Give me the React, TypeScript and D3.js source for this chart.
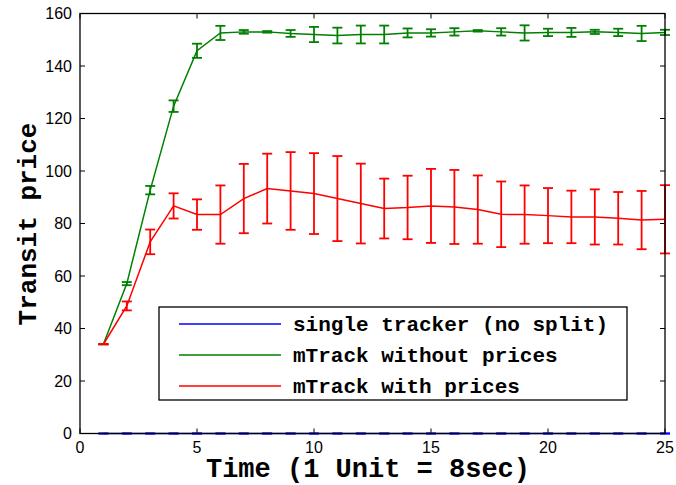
import React from "react";
import * as d3 from "d3";

const times = [1,2,3,4,5,6,7,8,9,10,11,12,13,14,15,16,17,18,19,20,21,22,23,24,25];
const singleMean = [0,0,0,0,0,0,0,0,0,0,0,0,0,0,0,0,0,0,0,0,0,0,0,0,0];
const singleErr = [0,0,0,0,0,0,0,0,0,0,0,0,0,0,0,0,0,0,0,0,0,0,0,0,0];
const noPriceMean = [34,57.1,92.7,124.7,145.8,152.6,153.0,153.0,152.4,152.0,151.6,152.0,152.0,152.6,152.6,153.0,153.4,153.0,152.6,152.8,152.8,153.0,152.8,152.4,152.8];
const noPriceErr = [0,0.6,1.6,2.2,2.7,2.7,0.7,0.3,1.3,2.9,3.0,3.4,3.4,1.7,1.4,1.4,0.3,1.4,2.9,1.4,1.7,0.8,1.4,2.9,1.0];
const priceMean = [34,48.6,73,86.7,83.4,83.4,89.5,93.3,92.4,91.4,89.5,87.6,85.7,86.1,86.7,86.3,85.3,83.5,83.4,83.0,82.5,82.5,82.0,81.3,81.6];
const priceErr = [0,1.7,4.7,4.8,5.8,11.1,13.2,13.3,14.8,15.4,16.2,15.2,11.4,12.1,14.1,14.1,13.0,12.5,11.1,10.5,10.0,10.5,10.0,11.1,13.0];
const seriesNames = ["single tracker (no split)", "mTrack without prices", "mTrack with prices"];
const seriesColors = ["#0000ff", "#008000", "#ff0000"];
const xTicks = [0,5,10,15,20,25];
const yTicks = [0,20,40,60,80,100,120,140,160];

export default function App() {
  const W = 676, H = 485;
  const x = d3.scaleLinear().domain([0, 25]).range([80, 665]);
  const y = d3.scaleLinear().domain([0, 160]).range([433.5, 13.5]);
  const series = [
    { mean: singleMean, err: singleErr },
    { mean: noPriceMean, err: noPriceErr },
    { mean: priceMean, err: priceErr },
  ];
  const line = d3.line<number>().x((_, i) => x(times[i])).y((d) => y(d));
  const cap = 5;
  const mono = "'Liberation Mono', 'Courier New', monospace";
  const sans = "'Liberation Sans', Arial, sans-serif";
  const [x0, x1] = x.range();
  const [y0, y1] = y.range();
  const legendX = 159, legendY = 307, legendW = 468, legendH = 93;
  return (
    <svg width={W} height={H} style={{ position: "absolute", left: 0, top: 0, background: "#fff" }}>
      <rect x={0} y={0} width={W} height={H} fill="#fff" />
      {xTicks.map((t) => (
        <g key={"xt" + t}>
          <line x1={x(t)} x2={x(t)} y1={y0} y2={y0 - 5} stroke="#000" strokeWidth={1} />
          <line x1={x(t)} x2={x(t)} y1={y1} y2={y1 + 5} stroke="#000" strokeWidth={1} />
          <text x={x(t)} y={453} textAnchor="middle" fontFamily={sans} fontSize={16}>{t}</text>
        </g>
      ))}
      {yTicks.map((t) => (
        <g key={"yt" + t}>
          <line x1={x0} x2={x0 + 5} y1={y(t)} y2={y(t)} stroke="#000" strokeWidth={1} />
          <line x1={x1} x2={x1 - 5} y1={y(t)} y2={y(t)} stroke="#000" strokeWidth={1} />
          <text x={72} y={y(t)} dy="0.36em" textAnchor="end" fontFamily={sans} fontSize={16}>{t}</text>
        </g>
      ))}
      {series.map((s, si) => (
        <g key={"s" + si}>
          <path d={line(s.mean) || ""} fill="none" stroke={seriesColors[si]} strokeWidth={1.5} />
          {s.mean.map((m, i) => {
            const cx = x(times[i]);
            const top = y(m + s.err[i]);
            const bot = y(m - s.err[i]);
            return (
              <g key={i} stroke={seriesColors[si]} strokeWidth={1.8}>
                <line x1={cx} x2={cx} y1={top} y2={bot} />
                <line x1={cx - cap} x2={cx + cap} y1={top} y2={top} />
                <line x1={cx - cap} x2={cx + cap} y1={bot} y2={bot} />
              </g>
            );
          })}
        </g>
      ))}
      <rect x={x0} y={y1} width={x1 - x0} height={y0 - y1} fill="none" stroke="#000" strokeWidth={1.3} />
      <rect x={legendX} y={legendY} width={legendW} height={legendH} fill="#fff" stroke="#000" strokeWidth={1.3} />
      {seriesNames.map((n, i) => {
        const ly = 324 + i * 31;
        return (
          <g key={"l" + i}>
            <line x1={179} x2={281} y1={ly} y2={ly} stroke={seriesColors[i]} strokeWidth={1.5} />
            <text x={293} y={ly} dy="0.32em" fontFamily={mono} fontWeight="bold" fontSize={21}>{n}</text>
          </g>
        );
      })}
      <text x={368} y={477} textAnchor="middle" fontFamily={mono} fontWeight="bold" fontSize={27}>Time (1 Unit = 8sec)</text>
      <text transform={`translate(36,${224}) rotate(-90)`} textAnchor="middle" fontFamily={mono} fontWeight="bold" fontSize={26}>Transit price</text>
    </svg>
  );
}
